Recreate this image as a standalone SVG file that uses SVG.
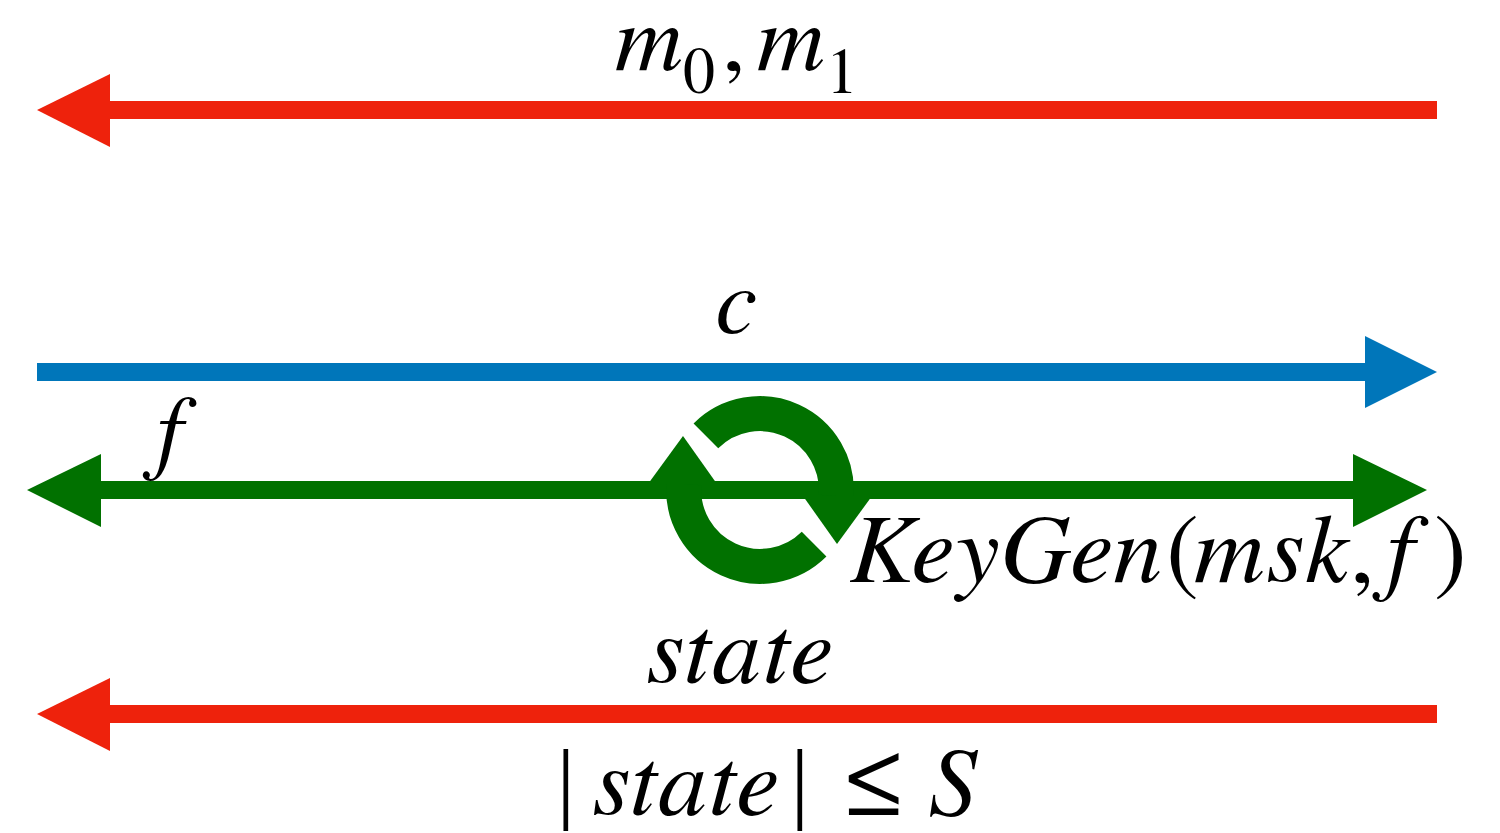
<svg xmlns="http://www.w3.org/2000/svg" width="1500" height="833" viewBox="0 0 1500 833">
<style>
.t{font-family:"FreeSerif","Liberation Serif","Times New Roman",serif;font-style:italic;font-size:94px;fill:#000}
.w{font-size:98px;letter-spacing:3px}
.u{font-style:normal;letter-spacing:0}
.sub{font-style:normal;font-size:64px}
.red{fill:#EE220C}.redl{stroke:#EE220C;stroke-width:18}
.blue{fill:#0076BA}.bluel{stroke:#0076BA;stroke-width:18}
.green{fill:#017100}.greenl{stroke:#017100;stroke-width:18}
.arc{fill:none;stroke:#017100;stroke-width:35}
</style>
<rect width="1500" height="833" fill="#fff"/>
<g id="connectors">
  <g id="arrow-m">
    <line class="redl" x1="105" y1="110" x2="1437" y2="110"/>
    <polygon class="red" points="37,110 110,74 110,147"/>
  </g>
  <g id="arrow-c">
    <line class="bluel" x1="37" y1="372" x2="1370" y2="372"/>
    <polygon class="blue" points="1437,372 1365,336 1365,408"/>
  </g>
  <g id="arrow-f">
    <line class="greenl" x1="95" y1="490" x2="1360" y2="490"/>
    <polygon class="green" points="27,490 101,454 101,527"/>
    <polygon class="green" points="1427,490 1353,454 1353,527"/>
  </g>
  <g id="arrow-state">
    <line class="redl" x1="105" y1="714" x2="1437" y2="714"/>
    <polygon class="red" points="37,714 110,678 110,751"/>
  </g>
  <g id="cycle">
    <path class="arc" d="M705.9,435.9 A76.5,76.5 0 0 1 836.1,496"/>
    <polygon class="green" points="803,496 872,496 837,544"/>
    <path class="arc" d="M814.1,544.1 A76.5,76.5 0 0 1 683.9,484"/>
    <polygon class="green" points="648,484 717,484 683,436"/>
  </g>
</g>
<g id="label-m"><text class="t" y="70"><tspan x="615">m</tspan><tspan class="sub" x="683" y="93">0</tspan><tspan class="u" x="722" y="70">,</tspan><tspan x="757" y="70">m</tspan><tspan class="sub" x="826" y="93">1</tspan></text></g>
<g id="label-c"><text class="t" x="716" y="333">c</text></g>
<g id="label-f"><text class="t" x="150" y="462">f</text></g>
<g id="label-keygen"><text class="t w" y="582"><tspan x="850">KeyGen</tspan><tspan class="u" x="1166">(</tspan><tspan x="1194">msk</tspan><tspan class="u" x="1350">,</tspan><tspan x="1380">f</tspan><tspan class="u" x="1434">)</tspan></text></g>
<g id="label-state"><text class="t w" x="648" y="683">state</text></g>
<g id="label-bound"><text class="t w" y="815"><tspan class="u" x="556">|</tspan><tspan x="594">state</tspan><tspan class="u" x="790">|</tspan><tspan class="u" x="846">≤</tspan><tspan x="930">S</tspan></text></g>
</svg>
